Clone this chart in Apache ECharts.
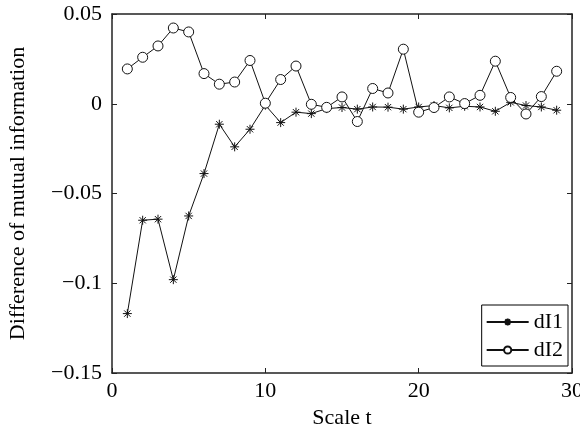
<!DOCTYPE html>
<html><head><meta charset="utf-8">
<script src="https://cdn.jsdelivr.net/npm/echarts@6/dist/echarts.min.js"></script>
<style>html,body{margin:0;padding:0;background:#fff}#c{width:580px;height:430px}</style>
</head><body><div id="c"></div>
<script>
const scales = [1,2,3,4,5,6,7,8,9,10,11,12,13,14,15,16,17,18,19,20,21,22,23,24,25,26,27,28,29];
const dI1 = [-0.1169,-0.0649,-0.0643,-0.0980,-0.0625,-0.0389,-0.0114,-0.0240,-0.0142,-0.0008,-0.0105,-0.0047,-0.0055,-0.0027,-0.0021,-0.0030,-0.0018,-0.0019,-0.0030,-0.0018,-0.0010,-0.0023,-0.0014,-0.0018,-0.0042,0.0008,-0.0010,-0.0018,-0.0036];
const dI2 = [0.0194,0.0259,0.0322,0.0422,0.0400,0.0168,0.0109,0.0121,0.0241,0.0003,0.0135,0.0210,-0.0003,-0.0020,0.0038,-0.0099,0.0085,0.0060,0.0304,-0.0047,-0.0021,0.0038,0.0001,0.0047,0.0237,0.0035,-0.0057,0.0040,0.0181];
const yTickLabels = {"0.05":"0.05","0":"0","-0.05":"\u22120.05","-0.1":"\u22120.1","-0.15":"\u22120.15"};
const xTickLabels = {"0":"0","10":"10","20":"20","30":"30"};

const font = 'Liberation Serif';
const fs = 22;
const star = 'path://M0,-10L0,10M-10,0L10,0M-7,-7L7,7M-7,7L7,-7';
const chart = echarts.init(document.getElementById('c'));
const axisLine = {show:true, onZero:false, lineStyle:{color:'#222', width:1.5}};
const tick = {show:true, inside:true, length:5, lineStyle:{color:'#222', width:1}};
chart.setOption({
  animation:false,
  grid:{left:112, right:8, top:14, bottom:57, show:false, outerBoundsMode:'none', containLabel:false},
  legend:{
    orient:'vertical', right:12, bottom:64,
    borderColor:'#000', borderWidth:1, backgroundColor:'#fff',
    padding:[6,5,5,4], itemGap:6, itemWidth:42, itemHeight:9,
    textStyle:{fontFamily:font, fontSize:fs, color:'#000'},
    data:['dI1','dI2']
  },
  xAxis:[{
    type:'value', min:0, max:30, interval:10,
    name:'Scale t', nameLocation:'middle', nameGap:31,
    nameTextStyle:{fontFamily:font, fontSize:fs, color:'#000'},
    axisLine:axisLine, axisTick:tick,
    axisLabel:{fontFamily:font, fontSize:fs, color:'#000', margin:7, formatter:v=>xTickLabels[String(v)]},
    splitLine:{show:false}
  },{
    type:'value', position:'top', min:0, max:30, interval:10,
    axisLine:axisLine, axisTick:tick,
    axisLabel:{show:false}, splitLine:{show:false}
  }],
  yAxis:[{
    type:'value', min:-0.15, max:0.05, interval:0.05,
    name:'Difference of mutual information', nameLocation:'middle', nameGap:83,
    nameTextStyle:{fontFamily:font, fontSize:fs, color:'#000'},
    axisLine:axisLine, axisTick:tick,
    axisLabel:{fontFamily:font, fontSize:fs, color:'#000', margin:10, formatter:v=>yTickLabels[String(Math.round(v*100)/100)]},
    splitLine:{show:false}
  },{
    type:'value', position:'right', min:-0.15, max:0.05, interval:0.05,
    axisLine:axisLine, axisTick:tick,
    axisLabel:{show:false}, splitLine:{show:false}
  }],
  series:[{
    name:'dI1', type:'line', data:scales.map((x,i)=>[x,dI1[i]]),
    symbol:star, symbolSize:9, showAllSymbol:true,
    lineStyle:{color:'#111', width:1},
    itemStyle:{color:'#111', borderColor:'#111', borderWidth:1}
  },{
    name:'dI2', type:'line', data:scales.map((x,i)=>[x,dI2[i]]),
    symbol:'circle', symbolSize:10, showAllSymbol:true,
    lineStyle:{color:'#111', width:1},
    itemStyle:{color:'#fff', borderColor:'#111', borderWidth:1}
  }]
});
</script></body></html>
